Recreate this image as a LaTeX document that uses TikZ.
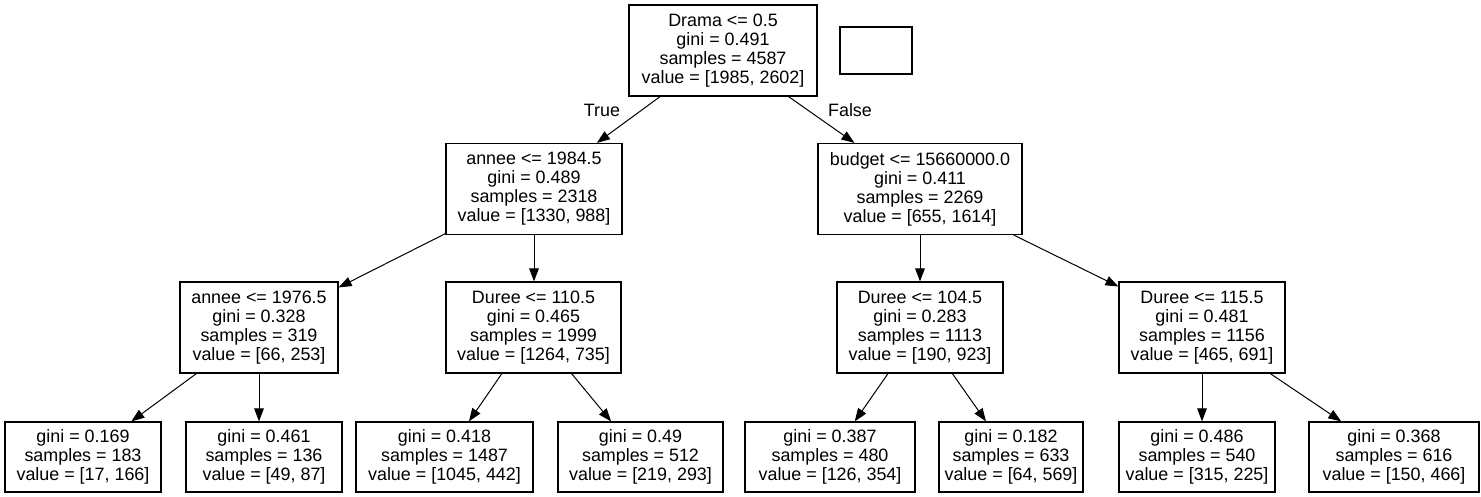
\documentclass[tikz,border=0pt]{standalone}
\usepackage{fontspec}
\setmainfont{Liberation Sans}
\usetikzlibrary{arrows.meta}

\begin{document}
\begin{tikzpicture}[
        x=0.5pt, y=-0.5pt,
        txt/.style={font=\fontsize{8.95}{9.5}\selectfont},
        split/.style={txt, draw, line width=0.6pt, align=center, inner xsep=2pt, minimum height=45.5pt},
        leaf/.style={split, minimum height=35pt},
        w/.style={minimum width=#1*0.5pt},
        edge/.style={draw, line width=0.5pt, -{Triangle[length=6.5pt, width=4.8pt]}}
    ]
        \useasboundingbox (0,0) rectangle (1481,497);

        % Nodes
        \node[split, w=188] (root) at (723,50.5) {Drama <= 0.5\\gini = 0.491\\samples = 4587\\value = [1985, 2602]};
        \node[draw, line width=0.6pt, inner sep=0pt, minimum width=36pt, minimum height=23.5pt] (legend) at (876,50.5) {};

        \node[split, w=176] (l) at (534,189) {annee <= 1984.5\\gini = 0.489\\samples = 2318\\value = [1330, 988]};
        \node[split, w=204] (r) at (920,189) {budget <= 15660000.0\\gini = 0.411\\samples = 2269\\value = [655, 1614]};

        \node[split, w=158] (ll) at (259,327.5) {annee <= 1976.5\\gini = 0.328\\samples = 319\\value = [66, 253]};
        \node[split, w=175] (lr) at (533.5,327.5) {Duree <= 110.5\\gini = 0.465\\samples = 1999\\value = [1264, 735]};
        \node[split, w=166] (rl) at (920,327.5) {Duree <= 104.5\\gini = 0.283\\samples = 1113\\value = [190, 923]};
        \node[split, w=166] (rr) at (1202,327.5) {Duree <= 115.5\\gini = 0.481\\samples = 1156\\value = [465, 691]};

        \node[leaf, w=156] (lll) at (83,457) {gini = 0.169\\samples = 183\\value = [17, 166]};
        \node[leaf, w=156] (llr) at (264,457) {gini = 0.461\\samples = 136\\value = [49, 87]};
        \node[leaf, w=177] (lrl) at (444.5,457) {gini = 0.418\\samples = 1487\\value = [1045, 442]};
        \node[leaf, w=165] (lrr) at (640.5,457) {gini = 0.49\\samples = 512\\value = [219, 293]};
        \node[leaf, w=170] (rll) at (830,457) {gini = 0.387\\samples = 480\\value = [126, 354]};
        \node[leaf, w=144] (rlr) at (1011,457) {gini = 0.182\\samples = 633\\value = [64, 569]};
        \node[leaf, w=156] (rrl) at (1197,457) {gini = 0.486\\samples = 540\\value = [315, 225]};
        \node[leaf, w=170] (rrr) at (1394,457) {gini = 0.368\\samples = 616\\value = [150, 466]};

        \node[txt] (true) at (602,110) {True};
        \node[txt] (false) at (850,110) {False};

        % Edges
        \draw[edge] (root) -- (l);
        \draw[edge] (root) -- (r);
        \draw[edge] (l) -- (ll);
        \draw[edge] (l) -- (l |- lr.north);
        \draw[edge] (r) -- (r |- rl.north);
        \draw[edge] (r) -- (rr);
        \draw[edge] (ll) -- (lll);
        \draw[edge] (ll) -- (ll |- llr.north);
        \draw[edge] (lr) -- (lrl);
        \draw[edge] (lr) -- (lrr);
        \draw[edge] (rl) -- (rll);
        \draw[edge] (rl) -- (rlr);
        \draw[edge] (rr) -- (rr |- rrl.north);
        \draw[edge] (rr) -- (rrr);
    \end{tikzpicture}
\end{document}
